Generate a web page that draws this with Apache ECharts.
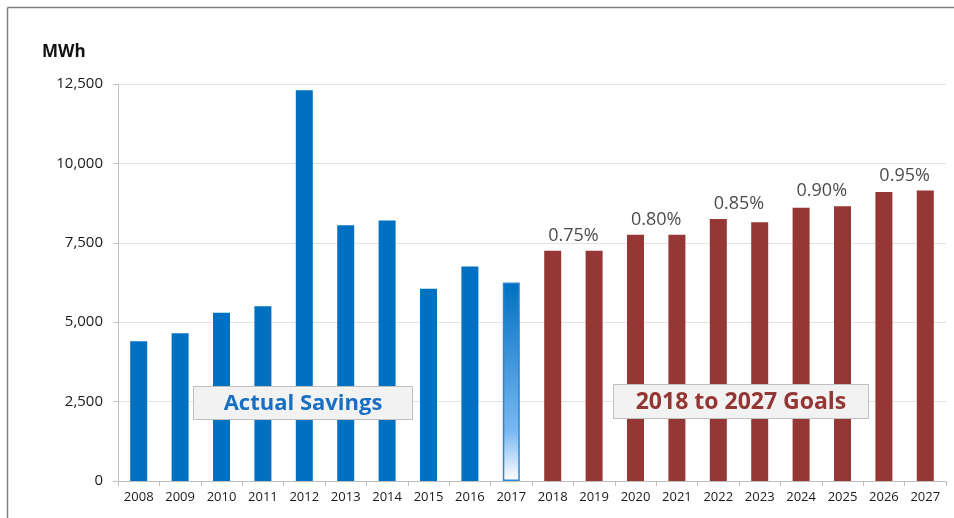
<!DOCTYPE html>
<html>
<head>
<meta charset="utf-8">
<script src="https://cdn.jsdelivr.net/npm/echarts@6/dist/echarts.min.js"></script>
<style>
  html, body { margin: 0; padding: 0; background: #fff; }
  #chart { width: 954px; height: 518px; }
</style>
</head>
<body>
<div id="chart"></div>
<script>
// Energy efficiency savings in MWh: actual results and planned goals
const years = ['2008','2009','2010','2011','2012','2013','2014','2015','2016','2017',
               '2018','2019','2020','2021','2022','2023','2024','2025','2026','2027'];
const actualSavings = [4400, 4650, 5300, 5500, 12300, 8050, 8200, 6050, 6750, 6250];
const goalSavings = [7250, 7250, 7750, 7750, 8250, 8150, 8600, 8650, 9100, 9150];
const goalRates = ['0.75%', '0.80%', '0.85%', '0.90%', '0.95%'];
const yTicks = [0, 2500, 5000, 7500, 10000, 12500];

const BLUE = '#0070C0';
const RED = '#953735';
const nActual = actualSavings.length;

// Actual series: the last actual year is still in progress, drawn with a fade
const actualData = actualSavings.map((v, i) => {
  if (i === nActual - 1) {
    return {
      value: v,
      itemStyle: {
        color: new echarts.graphic.LinearGradient(0, 0, 0, 1, [
          { offset: 0, color: '#0070C0' },
          { offset: 0.75, color: '#79B8F2' },
          { offset: 1, color: '#FFFFFF' }
        ]),
        borderColor: '#2E86D6',
        borderWidth: 1.5
      }
    };
  }
  return v;
});
const actualFull = years.map((_, i) => i < nActual ? actualData[i] : '-');
const goalFull = years.map((_, i) => i >= nActual ? goalSavings[i - nActual] : '-');

// Rate labels sit between each pair of goal years, above the taller bar of the pair
const rateLabelData = goalRates.map((r, k) => {
  const a = goalSavings[2 * k], b = goalSavings[2 * k + 1];
  return { value: [nActual + 2 * k + 0.5, Math.max(a, b)], rate: r };
});

const chart = echarts.init(document.getElementById('chart'), null, { renderer: 'canvas' });
const FONT = '"Open Sans", "DejaVu Sans", sans-serif';

chart.setOption({
  animation: false,
  textStyle: { fontFamily: FONT },
  grid: { left: 118, right: 8, top: 84, bottom: 37 },
  xAxis: [
    {
      type: 'category',
      data: years,
      boundaryGap: true,
      axisLine: { lineStyle: { color: '#BFBFBF', width: 1 } },
      axisTick: { show: true, length: 5, interval: 0, lineStyle: { color: '#BFBFBF' } },
      axisLabel: { color: '#1a1a1a', fontSize: 13, margin: 10, interval: 0, fontFamily: FONT }
    },
    {
      type: 'value',
      min: -0.5,
      max: years.length - 0.5,
      show: false
    }
  ],
  yAxis: {
    type: 'value',
    min: 0,
    max: 12500,
    interval: 2500,
    axisLine: { show: true, onZero: false, lineStyle: { color: '#BFBFBF' } },
    axisTick: { show: true, length: 5, lineStyle: { color: '#BFBFBF' } },
    splitLine: { lineStyle: { color: '#E3E3E3', width: 1 } },
    axisLabel: {
      color: '#1a1a1a',
      fontSize: 15,
      margin: 15,
      fontFamily: FONT,
      formatter: v => yTicks.includes(v) ? v.toLocaleString('en-US') : ''
    }
  },
  series: [
    {
      name: 'Actual Savings',
      type: 'bar',
      data: actualFull,
      barWidth: 17,
      barGap: '-100%',
      itemStyle: { color: BLUE }
    },
    {
      name: 'Goals',
      type: 'bar',
      data: goalFull,
      barWidth: 17,
      barGap: '-100%',
      itemStyle: { color: RED }
    },
    {
      name: 'Goal rate',
      type: 'scatter',
      xAxisIndex: 1,
      symbolSize: 0,
      data: rateLabelData,
      label: {
        show: true,
        position: 'top',
        distance: 6,
        color: '#1a1a1a',
        fontSize: 18,
        fontFamily: FONT,
        formatter: p => p.data.rate
      },
      silent: true
    }
  ],
  graphic: [
    // outer frame: top and left edges
    { type: 'line', z: 100, shape: { x1: 7.5, y1: 7.5, x2: 954, y2: 7.5 }, style: { stroke: '#7F7F7F', lineWidth: 1.5 } },
    { type: 'line', z: 100, shape: { x1: 7.5, y1: 7.5, x2: 7.5, y2: 518 }, style: { stroke: '#7F7F7F', lineWidth: 1.5 } },
    {
      type: 'text', left: 42, top: 44, z: 100,
      style: { text: 'MWh', fill: '#111', font: 'bold 17px ' + FONT }
    },
    {
      type: 'group', left: 193, top: 386, z: 100,
      children: [
        { type: 'rect', z: 100, shape: { x: 0, y: 0, width: 219, height: 33 },
          style: { fill: '#F2F2F2', stroke: '#BFBFBF', lineWidth: 1 } },
        { type: 'text', z: 101, style: { x: 109.5, y: 17, text: 'Actual Savings', fill: '#1A6FC2',
            font: 'bold 22px ' + FONT, align: 'center', verticalAlign: 'middle' } }
      ]
    },
    {
      type: 'group', left: 613, top: 384, z: 100,
      children: [
        { type: 'rect', z: 100, shape: { x: 0, y: 0, width: 255, height: 34 },
          style: { fill: '#F2F2F2', stroke: '#BFBFBF', lineWidth: 1 } },
        { type: 'text', z: 101, style: { x: 127.5, y: 17.5, text: '2018 to 2027 Goals', fill: '#943634',
            font: 'bold 23px ' + FONT, align: 'center', verticalAlign: 'middle' } }
      ]
    }
  ]
});
</script>
</body>
</html>
